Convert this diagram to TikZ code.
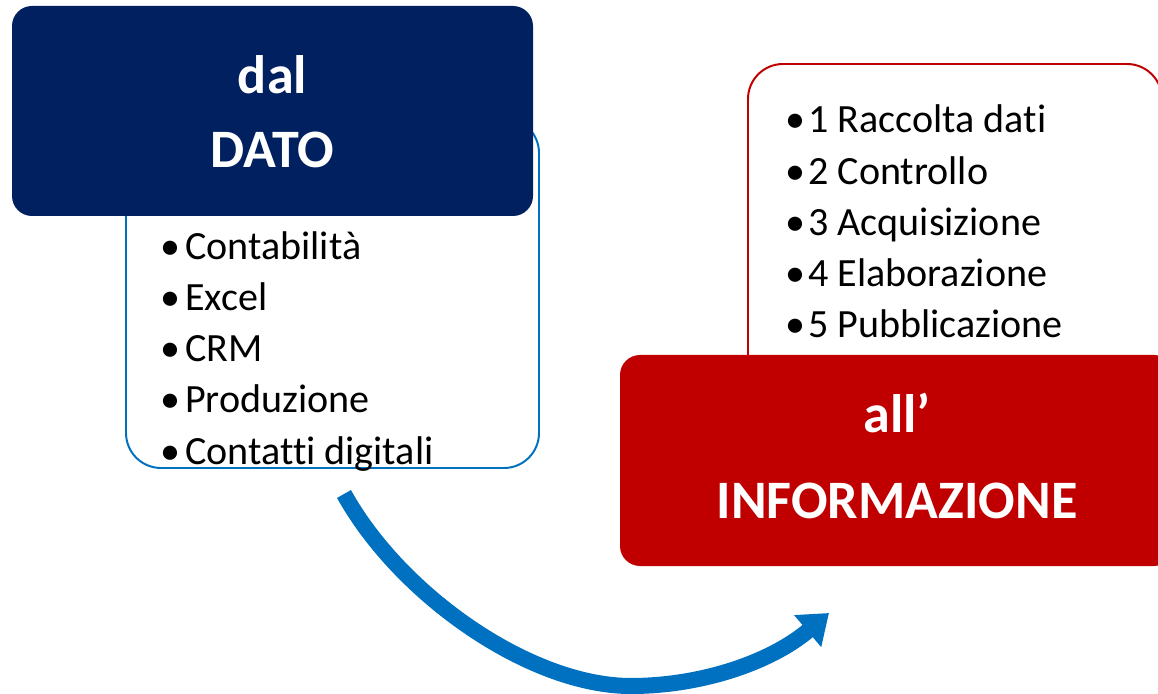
\documentclass[tikz,border=0pt]{standalone}
\usepackage{fontspec}
\setmainfont{Carlito}[Ligatures=NoCommon]
\usetikzlibrary{arrows.meta}
\definecolor{datoblue}{RGB}{0,32,96}
\definecolor{infored}{RGB}{192,0,0}
\definecolor{linkblue}{RGB}{0,112,192}
\tikzset{
	titlebox/.style={rounded corners=0.5cm, inner sep=0},
	listframe/.style={draw, fill=white, line width=1.4pt, rounded corners=0.875cm, inner sep=0},
	titletext/.style={text=white, font=\fontsize{38.5}{46}\selectfont\bfseries, anchor=base, inner sep=0},
	itemtext/.style={font=\fontsize{28.5}{34}\selectfont, anchor=base west, inner sep=0},
}

\begin{document}
\begin{tikzpicture}[x=0.025cm, y=-0.025cm]
			\def\px{0.025cm}
			\useasboundingbox (0,0) rectangle (1158,694);
			\clip (0,0) rectangle (1158,694);

			% frames behind the title boxes
			\node[listframe, draw=linkblue, minimum width={413*\px}, minimum height={350*\px}] (srcframe) at (332.5,293) {};
			\node[listframe, draw=infored, minimum width={414*\px}, minimum height={336*\px}] (stepframe) at (955,232) {};

			% title boxes
			\node[titlebox, fill=datoblue, minimum width={521*\px}, minimum height={210*\px}] (dato) at (272.5,111) {};
			\node[titlebox, fill=infored, minimum width={554*\px}, minimum height={211*\px}] (info) at (897,460.5) {};

			\node[titletext] (datoA) at (272.5,94) {dal};
			\node[titletext] (datoB) at (272.5,168) {DATO};
			\node[titletext] (infoA) at (897,433) {all’};
			\node[titletext] (infoB) at (897,518) {INFORMAZIONE};

			% sources
			\foreach \t [count=\i] in {Contabilità, Excel, CRM, Produzione, Contatti digitali}
				\node[itemtext] (src\i) at (160, 209+51*\i) {\makebox[0.625cm][l]{•}\t};

			% steps
			\foreach \t [count=\i] in {1 Raccolta dati, 2 Controllo, 3 Acquisizione, 4 Elaborazione, 5 Pubblicazione}
				\node[itemtext] (step\i) at (785, 81.75+51.25*\i) {\makebox[0.575cm][l]{•}\t};

			% curved arrow
			\coordinate (arrstart) at (344,494);
			\coordinate (arrend) at (829,613);
			\draw[linkblue, line width=11.4pt, -{Triangle[length=0.7cm, width=1cm]}]
				(arrstart) .. controls (400,595) and (530,686) .. (631,686)
				.. controls (700,686) and (770,663) .. (arrend);

		\end{tikzpicture}
\end{document}
